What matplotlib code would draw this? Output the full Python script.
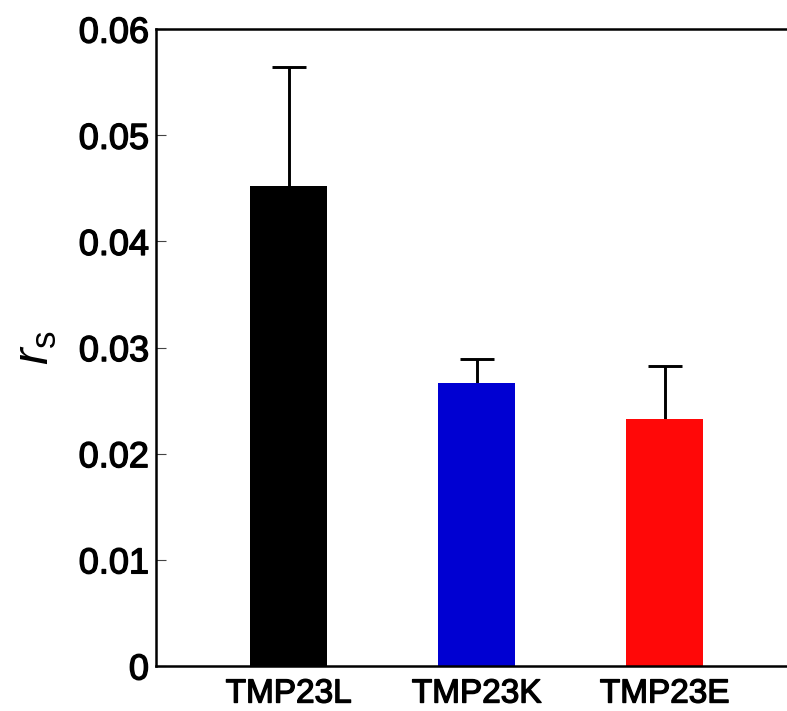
import matplotlib.pyplot as plt
import matplotlib.patheffects as pe
import numpy as np

plt.rcParams["font.family"] = ["Liberation Sans", "DejaVu Sans"]
plt.rcParams["mathtext.fontset"] = "custom"
plt.rcParams["mathtext.rm"] = "Liberation Sans"
plt.rcParams["mathtext.it"] = "Liberation Sans:italic"

labels = ["TMP23L", "TMP23K", "TMP23E"]
means = [0.0452, 0.0267, 0.0233]
upper_err = [0.0112, 0.0022, 0.0050]
colors = ["#000000", "#0000d2", "#ff0808"]

fig = plt.figure(figsize=(7.87, 7.11), dpi=100)
ax = fig.add_axes([0.198, 0.0633, 0.802, 0.8957])

x = np.arange(1, len(labels) + 1)
ax.bar(x, means, width=0.41, color=colors, zorder=2)
eb = ax.errorbar(
    x,
    means,
    yerr=[np.zeros(len(means)), upper_err],
    fmt="none",
    ecolor="black",
    elinewidth=2.1,
    capsize=12,
    capthick=2.1,
    zorder=1,
)
# only upper caps
eb[1][0].set_visible(False)

ax.set_xlim(0.293, 3.65)
ax.set_ylim(0, 0.06)
ax.set_yticks([0, 0.01, 0.02, 0.03, 0.04, 0.05, 0.06])
ax.set_yticklabels(["0", "0.01", "0.02", "0.03", "0.04", "0.05", "0.06"])
ax.set_xticks(x)
ax.set_xticklabels(labels)

ax.tick_params(axis="y", direction="in", length=7, width=0.8, color="#444444",
               labelsize=26, pad=5)
ax.tick_params(axis="x", length=0, labelsize=24, pad=9)
heavy = [pe.withStroke(linewidth=1.0, foreground="black")]
for t in ax.get_yticklabels() + ax.get_xticklabels():
    t.set_path_effects(heavy)

for side in ["left", "bottom", "top"]:
    ax.spines[side].set_linewidth(1.8)
ax.spines["right"].set_visible(False)

ax.set_ylabel(r"$r_{\mathrm{s}}$", fontsize=36, labelpad=14)

fig.savefig("out.png", dpi=100)
